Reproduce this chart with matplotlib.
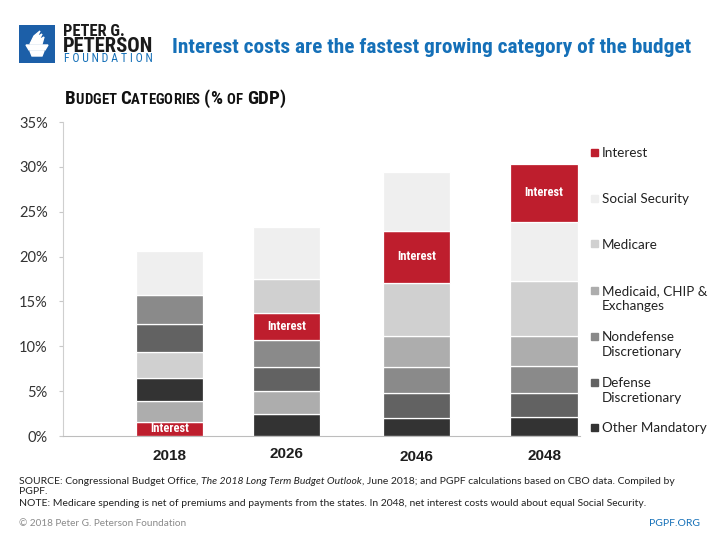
import matplotlib
matplotlib.use("Agg")
import matplotlib.pyplot as plt
from matplotlib import font_manager
from matplotlib.patches import Rectangle, Polygon
from matplotlib.transforms import ScaledTranslation

fonts = font_manager.fontManager.ttflist
names = set(f.name for f in fonts)
NARROW_STRETCH = "normal"
if "Liberation Sans Narrow" in names:
    NARROW = "Liberation Sans Narrow"
elif "Roboto Condensed" in names:
    NARROW = "Roboto Condensed"
elif any(f.name == "DejaVu Sans" and f.stretch in ("condensed", "semi-condensed") for f in fonts):
    NARROW, NARROW_STRETCH = "DejaVu Sans", "condensed"
else:
    NARROW = "Roboto"
BODY = "Lato" if "Lato" in names else "DejaVu Sans"
WIDE = "Liberation Sans" if "Liberation Sans" in names else "DejaVu Sans"

years = ["2018", "2026", "2046", "2048"]
categories = ["Interest", "Social Security", "Medicare", "Medicaid, CHIP &\nExchanges",
              "Nondefense\nDiscretionary", "Defense\nDiscretionary", "Other Mandatory"]
keys = ["interest", "social", "medicare", "medicaid", "nondefense", "defense", "other"]

other = [2.6, 2.45, 2.0, 2.1]
defense = [3.1, 2.7, 2.75, 2.7]
nondefense = [3.2, 3.0, 2.95, 3.0]
medicaid = [2.3, 2.55, 3.4, 3.4]
medicare = [2.9, 3.8, 6.0, 6.1]
social = [4.9, 5.8, 6.5, 6.6]
interest = [1.6, 3.0, 5.8, 6.45]

# stacking order differs per bar (bottom -> top), as in the original
stack_order = [
    ["interest", "medicaid", "other", "medicare", "defense", "nondefense", "social"],
    ["other", "medicaid", "defense", "nondefense", "interest", "medicare", "social"],
    ["other", "defense", "nondefense", "medicaid", "medicare", "interest", "social"],
    ["other", "defense", "nondefense", "medicaid", "medicare", "social", "interest"],
]

values = dict(interest=interest, social=social, medicare=medicare, medicaid=medicaid,
              nondefense=nondefense, defense=defense, other=other)
colors = dict(interest="#be1e2d", social="#efefef", medicare="#d0d0d0", medicaid="#adadad",
              nondefense="#8a8a8a", defense="#626262", other="#333333")

xpos = [0, 0.975, 2.06, 3.12]
TITLE_BLUE = "#1570b8"
NF = dict(family=NARROW, stretch=NARROW_STRETCH)

fig = plt.figure(figsize=(7.2, 5.4), dpi=100)
renderer = fig.canvas.get_renderer()
W = fig.bbox.width

ax = fig.add_axes([63 / 720, 1 - 436 / 540, (580 - 63) / 720, (436 - 122) / 540])

for i, yr in enumerate(years):
    bottom = 0
    for k in stack_order[i]:
        v = values[k][i]
        ax.bar(xpos[i], v, bottom=bottom, width=0.56, color=colors[k],
               edgecolor="white", linewidth=0.9)
        if k == "interest":
            ax.text(xpos[i], bottom + v / 2, "Interest", ha="center", va="center",
                    color="white", fontsize=9, fontweight="bold", **NF)
        bottom += v

ax.set_ylim(0, 35)
ax.set_xlim(-0.89, 3.42)
ax.set_yticks(range(0, 36, 5))
ax.set_yticklabels([f"{t}%" for t in range(0, 36, 5)], fontsize=10.5, family=BODY, color="#333333")
ax.set_xticks(xpos)
ax.set_xticklabels(years, fontsize=11, fontweight="bold", color="#1e1e1e", family=WIDE)
ax.tick_params(axis="x", length=0, pad=9)
ax.tick_params(axis="y", length=3, color="#c8c8c8", pad=8)
# the year labels sit at slightly uneven heights in the original
for lbl, dy in zip(ax.get_xticklabels(), [0, 1, -1.5, 0]):
    lbl.set_transform(lbl.get_transform() + ScaledTranslation(0, dy / 100, fig.dpi_scale_trans))
for s in ["top", "right"]:
    ax.spines[s].set_visible(False)
ax.spines["left"].set_color("#cfcfcf")
ax.spines["bottom"].set_color("#bdbdbd")

# legend, drawn by hand so the square sits on the first line
leg_y = [152, 198, 244, 290, 336, 382, 427]
for k, lab, yy in zip(keys, categories, leg_y):
    fig.patches.append(Rectangle((591 / 720, 1 - (yy + 3.5) / 540), 7 / 720, 7 / 540,
                                 transform=fig.transFigure, color=colors[k], figure=fig))
    for j, line in enumerate(lab.split("\n")):
        fig.text(602 / 720, 1 - (yy + 5 + j * 15.5) / 540, line, fontsize=9.7, family=BODY,
                 va="baseline", color="#222222")


def pieces(x, y, parts, width=None, max_size=None, **kw):
    # parts: list of (text, props) drawn one after another from x;
    # if width (px) is given, all font sizes are scaled so the run fits it
    arts = []
    for txt, props in parts:
        p = dict(kw)
        p.update(props)
        arts.append(fig.text(x, y, txt, **p))
    total = sum(t.get_window_extent(renderer).width for t in arts)
    if width:
        f = width / total
        for t in arts:
            size = t.get_fontsize() * f
            t.set_fontsize(min(size, max_size) if max_size else size)
    for t in arts:
        t.set_x(x)
        x += t.get_window_extent(renderer).width / W
    return arts


def small_caps(text, big, small):
    out = []
    for ch in text:
        if ch.islower():
            out.append((ch.upper(), {"fontsize": small}))
        else:
            out.append((ch, {"fontsize": big}))
    return out


pieces(65 / 720, 1 - 104 / 540, small_caps("Budget Categories (% of GDP)", 12.5, 9.8), width=221,
       fontweight="bold", color="#111111", va="baseline", **NF)

# header
pieces(172 / 720, 1 - 53 / 540,
       [("Interest costs are the fastest growing category of the budget", {})], width=521,
       fontsize=16, fontweight="bold", color=TITLE_BLUE, va="baseline", **NF)

lax = fig.add_axes([19 / 720, 1 - 63 / 540, 36 / 720, 38 / 540])
lax.set_xlim(0, 36)
lax.set_ylim(0, 38)
lax.axis("off")
lax.add_patch(Rectangle((0, 0), 36, 38, color="#1c5fa8"))
lax.add_patch(Polygon([(7, 18), (29, 18), (26, 13), (10, 13)], color="white"))
lax.add_patch(Polygon([(11, 12), (25, 12), (23, 7), (13, 7)], color="white"))
lax.add_patch(Polygon([(11, 19), (15, 27), (21, 32), (18, 26), (23, 29), (20, 23), (25, 26), (23, 19)],
                      color="white"))

pieces(63 / 720, 1 - 35.5 / 540, [("PETER G.", {})], width=62, fontsize=10, fontweight="bold",
       color="#1a1a1a", va="baseline", **NF)
pieces(63 / 720, 1 - 52.5 / 540, [("PETERSON", {})], width=91, fontsize=16, fontweight="bold",
       color="#1a1a1a", va="baseline", **NF)
pieces(64 / 720, 1 - 62.5 / 540, [("F O U N D A T I O N", {})], width=89, fontsize=6.5,
       color=TITLE_BLUE, va="baseline", **NF)

# footer
foot = dict(fontsize=8, color="#222222", va="baseline", family=BODY)
src = pieces(19 / 720, 1 - 484 / 540, [
    ("SOURCE: Congressional Budget Office, ", {}),
    ("The 2018 Long Term Budget Outlook", {"style": "italic"}),
    (", June 2018; and PGPF calculations based on CBO data. Compiled by", {}),
], width=661, max_size=7.6, **foot)
foot["fontsize"] = src[0].get_fontsize()
fig.text(19 / 720, 1 - 494.5 / 540, "PGPF.", **foot)
fig.text(19 / 720, 1 - 505.5 / 540,
         "NOTE: Medicare spending is net of premiums and payments from the states. "
         "In 2048, net interest costs would about equal Social Security.", **foot)
pieces(19 / 720, 1 - 525.5 / 540, [("\u00a9 2018 Peter G. Peterson Foundation", {})], width=168,
       fontsize=8, color="#8a8a8a", va="baseline", family=BODY)
t = pieces(650 / 720, 1 - 525.5 / 540, [("PGPF.ORG", {})], width=50, fontsize=8.5,
           color=TITLE_BLUE, va="baseline", family=BODY)[0]
t.set_x(700 / 720)
t.set_ha("right")

fig.savefig("out.png", dpi=100)
